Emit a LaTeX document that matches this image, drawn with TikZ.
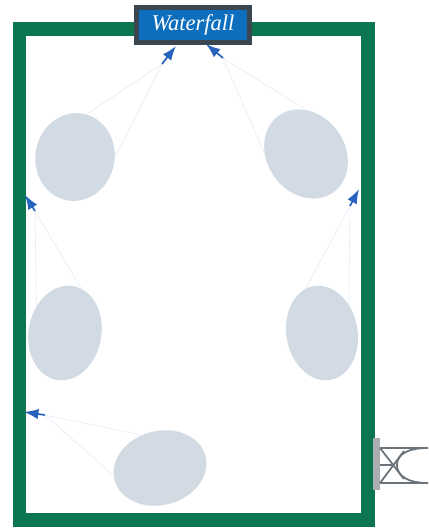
\documentclass[tikz,border=0pt]{standalone}
\usepackage{fontspec}
\setmainfont{Liberation Serif}
\usetikzlibrary{arrows.meta,shapes.geometric}
\definecolor{PoolGreen}{RGB}{12,118,80}
\definecolor{PoolBlob}{RGB}{210,219,227}
\definecolor{PoolBlue}{RGB}{14,110,190}
\definecolor{PoolJet}{RGB}{38,98,190}
\definecolor{PoolSlate}{RGB}{58,70,80}
\definecolor{PoolSpray}{RGB}{226,235,244}
\definecolor{PoolGray}{RGB}{170,174,176}
\tikzset{
  pool/wall/.style={draw=PoolGreen, line width=0.33cm, fill=white},
  pool/blob/.style={
    ellipse,
    fill=PoolBlob,
    inner sep=0pt
  },
  pool/sign/.style={
    draw=PoolSlate,
    line width=1.3mm,
    fill=PoolBlue,
    text=white,
    align=center,
    minimum width=2.82cm,
    minimum height=0.87cm,
    inner sep=0pt,
    font=\fontsize{16}{16}\selectfont\itshape
  },
  pool/jet/.style={-{Latex[length=3.6mm,width=2.6mm]}, very thick, draw=PoolJet},
  pool/spray/.style={draw=PoolSpray, thin},
  pool/valve/.style={draw=PoolSlate!75, line width=0.45mm},
  pool/plate/.style={fill=PoolGray, inner sep=0pt, minimum width=1.7mm, minimum height=1.3cm}
}
\begin{document}
\begin{tikzpicture}[x=0.025cm,y=-0.025cm]
  \useasboundingbox (0,0) rectangle (428,530);
  \draw[pool/wall] (19.5,29) rectangle (368,520);
  \node[pool/sign] (sign) at (193,25) {Waterfall};

  % fountains, anticlockwise from the upper left
  \node[pool/blob,minimum width=2.2cm,minimum height=1.98cm,rotate=80] (blobA) at (75,157) {};
  \node[pool/blob,minimum width=2.35cm,minimum height=1.95cm,rotate=-55] (blobB) at (306,154) {};
  \node[pool/blob,minimum width=2.38cm,minimum height=1.82cm,rotate=80] (blobC) at (65,333) {};
  \node[pool/blob,minimum width=2.38cm,minimum height=1.78cm,rotate=-80] (blobD) at (322,333) {};
  \node[pool/blob,minimum width=2.35cm,minimum height=1.85cm,rotate=15] (blobE) at (160,468) {};

  \coordinate (tipA) at (176,46);
  \coordinate (baseA) at (162,64);
  \coordinate (tipB) at (206,44);
  \coordinate (baseB) at (223,58);
  \coordinate (tipC) at (25,195);
  \coordinate (baseC) at (35,211);
  \coordinate (tipD) at (359,189);
  \coordinate (baseD) at (350,206);
  \coordinate (tipE) at (24,412);
  \coordinate (baseE) at (45,415);

  \foreach \i/\u/\v in {A/-80/-5,B/145/235,C/57/-10,D/127/190,E/104/174}{
    \draw[pool/spray] (base\i) -- (blob\i.\u);
    \draw[pool/spray] (base\i) -- (blob\i.\v);
    \draw[pool/jet] (base\i) -- (tip\i);
  }

  % valve on the outside of the wall
  \node[pool/plate] (plate) at (376.5,464) {};
  \coordinate (valveNW) at (380,448);
  \coordinate (valveSW) at (380,483);
  \coordinate (valveM) at (393,465);
  \coordinate (valveNE) at (428,448);
  \coordinate (valveSE) at (428,483);
  \coordinate (crossNE) at (404,451);
  \coordinate (crossSE) at (404,479);
  \draw[pool/valve] (valveNW) -- (valveNE);
  \draw[pool/valve] (valveSW) -- (valveSE);
  \draw[pool/valve] (valveNW) -- (crossSE);
  \draw[pool/valve] (valveSW) -- (crossNE);
  \draw[pool/valve] (plate.east |- valveM) -- (valveM);
  \draw[pool/valve] (valveNE) .. controls (408,448) and (397,454) .. (397,465)
    .. controls (397,476) and (408,483) .. (valveSE);
\end{tikzpicture}
\end{document}
